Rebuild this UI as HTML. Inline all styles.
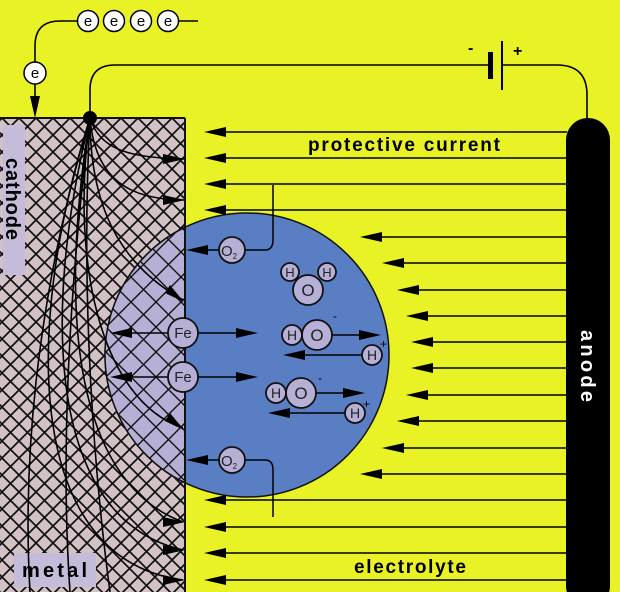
<!DOCTYPE html>
<html><head><meta charset="utf-8"><style>
html,body{margin:0;padding:0;background:#e8f224;}
svg{display:block;}
text{font-family:"Liberation Sans",sans-serif;}
</style></head><body>
<svg width="620" height="592" viewBox="0 0 620 592" xmlns="http://www.w3.org/2000/svg">
<defs>
<pattern id="h1" width="17" height="17" patternUnits="userSpaceOnUse" x="2" y="118">
<path d="M0,0 L17,17 M17,0 L0,17" stroke="#111" stroke-width="1.7"/>
</pattern>
<pattern id="h2" width="25" height="25" patternUnits="userSpaceOnUse" x="6" y="2">
<path d="M0,0 L25,25 M25,0 L0,25" stroke="#111" stroke-width="1.4"/>
</pattern>
<clipPath id="metalClip"><rect x="0" y="118" width="185" height="474"/></clipPath>
<clipPath id="circClip"><circle cx="247" cy="355" r="142"/></clipPath>
</defs>
<rect width="620" height="592" fill="#e8f224"/>
<rect x="0" y="118" width="185" height="474" fill="#d2c2c6"/>
<rect x="0" y="118" width="185" height="474" fill="url(#h1)"/>
<circle cx="247" cy="355" r="142" fill="#5a7ec4" stroke="#111" stroke-width="1.5"/>
<g clip-path="url(#metalClip)">
<circle cx="247" cy="355" r="142" fill="#b6b0d6" stroke="#111" stroke-width="1.5"/>
<g clip-path="url(#circClip)"><rect x="0" y="200" width="185" height="300" fill="url(#h2)"/></g>
</g>
<line x1="185" y1="118" x2="185" y2="592" stroke="#111" stroke-width="2"/>
<line x1="0" y1="118" x2="185" y2="118" stroke="#111" stroke-width="2"/>
<rect x="3" y="125" width="22" height="150" fill="#c4bcd8"/>
<text transform="translate(6,158) rotate(90)" font-size="20" font-weight="bold" fill="#000" textLength="82">cathode</text>
<rect x="14" y="553" width="82" height="34" fill="#c4bcd8"/>
<text x="22" y="577" font-size="20" font-weight="bold" textLength="65">metal</text>
<g fill="none" stroke="#000" stroke-width="1.6">
<path d="M90,118 C100,150 130,158 185,159"/>
<path d="M90,118 C95,180 130,200 185,200"/>
<path d="M90,118 C90,220 130,270 183,300"/>
<path d="M90,118 C70,260 100,400 183,428"/>
<path d="M90,118 C60,300 70,480 183,522"/>
<path d="M90,118 C40,320 50,520 183,550"/>
<path d="M90,118 C20,340 30,560 183,580"/>
<path d="M90,118 C50,250 20,420 30,592"/>
<path d="M90,118 C70,280 60,450 70,592"/>
<path d="M90,118 C80,300 95,480 110,592"/>
</g>
<g fill="#000">
<path d="M185,159 L163,154 L163,164 Z"/>
<path d="M185,200 L163,195 L163,205 Z"/>
<path d="M184,302 L170,285 L165,293 Z"/>
<path d="M184,430 L170,413 L165,421 Z"/>
<path d="M185,522 L163,517 L163,527 Z"/>
<path d="M185,550 L163,545 L163,555 Z"/>
<path d="M185,580 L163,575 L163,585 Z"/>
</g>
<g stroke="#000" stroke-width="1.6">
<line x1="567" y1="132" x2="210" y2="132"/>
<line x1="567" y1="158" x2="210" y2="158"/>
<line x1="567" y1="184" x2="210" y2="184"/>
<line x1="567" y1="210" x2="210" y2="210"/>
<line x1="567" y1="237" x2="366" y2="237"/>
<line x1="567" y1="263" x2="388" y2="263"/>
<line x1="567" y1="290" x2="403" y2="290"/>
<line x1="567" y1="316" x2="412" y2="316"/>
<line x1="567" y1="342" x2="417" y2="342"/>
<line x1="567" y1="368" x2="417" y2="368"/>
<line x1="567" y1="395" x2="412" y2="395"/>
<line x1="567" y1="421" x2="403" y2="421"/>
<line x1="567" y1="448" x2="388" y2="448"/>
<line x1="567" y1="474" x2="366" y2="474"/>
<line x1="567" y1="500" x2="210" y2="500"/>
<line x1="567" y1="527" x2="210" y2="527"/>
<line x1="567" y1="553" x2="210" y2="553"/>
<line x1="567" y1="580" x2="210" y2="580"/>
</g>
<g fill="#000">
<path d="M204,132 l22,-5 v10 z"/><path d="M204,158 l22,-5 v10 z"/><path d="M204,184 l22,-5 v10 z"/><path d="M204,210 l22,-5 v10 z"/>
<path d="M360,237 l22,-5 v10 z"/><path d="M382,263 l22,-5 v10 z"/><path d="M397,290 l22,-5 v10 z"/><path d="M406,316 l22,-5 v10 z"/>
<path d="M411,342 l22,-5 v10 z"/><path d="M411,368 l22,-5 v10 z"/><path d="M406,395 l22,-5 v10 z"/><path d="M397,421 l22,-5 v10 z"/>
<path d="M382,448 l22,-5 v10 z"/><path d="M360,474 l22,-5 v10 z"/>
<path d="M204,500 l22,-5 v10 z"/><path d="M204,527 l22,-5 v10 z"/><path d="M204,553 l22,-5 v10 z"/><path d="M204,580 l22,-5 v10 z"/>
</g>
<rect x="300" y="136" width="210" height="18" fill="#e8f224"/>
<text x="308" y="151" font-size="19" font-weight="bold" textLength="192">protective current</text>
<text x="354" y="573" font-size="19" font-weight="bold" textLength="112">electrolyte</text>
<rect x="566" y="118" width="44" height="490" rx="22" fill="#000"/>
<text transform="translate(581,330) rotate(90)" font-size="20" font-weight="bold" fill="#fff" textLength="72">anode</text>
<g fill="none" stroke="#000" stroke-width="1.6">
<path d="M90,118 V90 Q90,65 115,65 H490"/>
<path d="M502,65 H557 Q587,65 587,95 V120"/>
<path d="M77,21 H60 Q35,21 35,46 V62"/>
<line x1="35" y1="84" x2="35" y2="100"/>
<line x1="178" y1="21" x2="198" y2="21"/>
</g>
<rect x="488" y="52" width="5" height="27" fill="#000"/>
<rect x="501" y="41" width="2" height="49" fill="#000"/>
<text x="468" y="53" font-size="16" font-weight="bold">-</text>
<text x="513" y="56" font-size="16" font-weight="bold">+</text>
<path d="M35,118 l-5,-22 h10 z" fill="#000"/>
<circle cx="90" cy="118" r="7" fill="#000"/>
<g fill="#fff" stroke="#000" stroke-width="1.5">
<circle cx="88" cy="21" r="10.5"/><circle cx="114" cy="21" r="10.5"/><circle cx="141" cy="21" r="10.5"/><circle cx="168" cy="21" r="10.5"/>
<circle cx="35" cy="73" r="11"/>
</g>
<g font-size="15" text-anchor="middle" fill="#000">
<text x="88" y="26">e</text><text x="114" y="26">e</text><text x="141" y="26">e</text><text x="168" y="26">e</text><text x="35" y="78">e</text>
</g>
<g fill="none" stroke="#000" stroke-width="1.5">
<path d="M245,250 H265 Q273,250 273,240 V185"/>
<path d="M245,460 H265 Q273,460 273,470 V517"/>
<line x1="219" y1="250" x2="200" y2="250"/><line x1="219" y1="460" x2="200" y2="460"/>
<line x1="168" y1="333" x2="125" y2="333"/><line x1="198" y1="333" x2="240" y2="333"/>
<line x1="168" y1="377" x2="125" y2="377"/><line x1="198" y1="377" x2="240" y2="377"/>
<line x1="332" y1="335" x2="362" y2="335"/><line x1="362" y1="355" x2="300" y2="355"/>
<line x1="316" y1="393" x2="346" y2="393"/><line x1="345" y1="413" x2="285" y2="413"/>
</g>
<g fill="#000">
<path d="M186,250 l22,-5 v10 z"/><path d="M186,460 l22,-5 v10 z"/>
<path d="M110,333 l22,-5 v10 z"/><path d="M110,377 l22,-5 v10 z"/>
<path d="M258,333 l-22,-5 v10 z"/><path d="M258,377 l-22,-5 v10 z"/>
<path d="M381,335 l-22,-5 v10 z"/><path d="M365,393 l-22,-5 v10 z"/>
<path d="M283,355 l22,-5 v10 z"/><path d="M268,413 l22,-5 v10 z"/>
</g>
<g fill="#b6b0d6" stroke="#111" stroke-width="1.8">
<circle cx="232" cy="250" r="13"/><circle cx="232" cy="460" r="13"/>
<circle cx="183" cy="333" r="15"/><circle cx="183" cy="377" r="15"/>
<circle cx="290" cy="272" r="9"/><circle cx="327" cy="272" r="9"/><circle cx="308" cy="290" r="15"/>
<circle cx="292" cy="335" r="10"/><circle cx="317" cy="335" r="15"/>
<circle cx="372" cy="355" r="10"/>
<circle cx="276" cy="393" r="10"/><circle cx="301" cy="393" r="15"/>
<circle cx="355" cy="413" r="10"/>
</g>
<g font-size="15" text-anchor="middle" fill="#222">
<text x="229" y="256">O<tspan font-size="8" dy="3">2</tspan></text>
<text x="229" y="466">O<tspan font-size="8" dy="3">2</tspan></text>
<text x="183" y="338">Fe</text><text x="183" y="382">Fe</text>
<text x="290" y="277" font-size="13">H</text><text x="327" y="277" font-size="13">H</text><text x="308" y="296" font-size="17">O</text>
<text x="292" y="340" font-size="14">H</text><text x="317" y="341" font-size="17">O</text>
<text x="372" y="360" font-size="14">H</text>
<text x="276" y="398" font-size="14">H</text><text x="301" y="399" font-size="17">O</text>
<text x="355" y="418" font-size="14">H</text>
</g>
<g font-size="12" fill="#000">
<text x="333" y="320">-</text><text x="380" y="348">+</text>
<text x="318" y="382">-</text><text x="363" y="408">+</text>
</g>
</svg>
</body></html>
